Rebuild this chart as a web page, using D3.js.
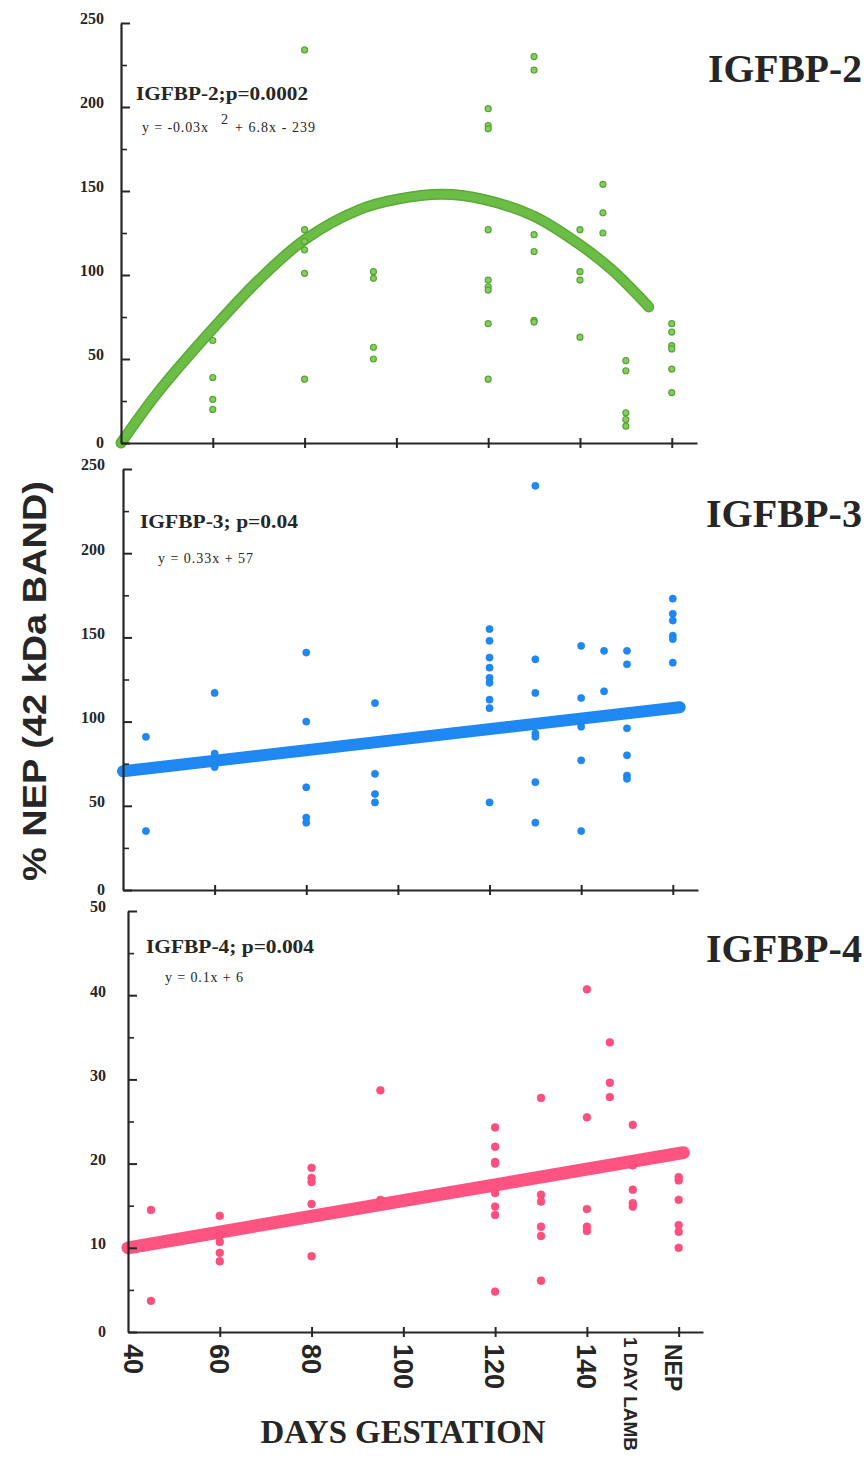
<!DOCTYPE html>
<html>
<head>
<meta charset="utf-8">
<script src="https://cdn.jsdelivr.net/npm/d3@7"></script>
<style>
  body { margin: 0; background: #fff; }
  svg { display: block; }
</style>
</head>
<body>
<svg id="chart" width="865" height="1459"></svg>
<script>
// days: 45, 60, 80, 95, 120, 130, 140, 145, "1 DAY LAMB" = 150, "NEP" = 160
const igfbp2Points = [
    [60, 61], [60, 39], [60, 26], [60, 20],
    [80, 234], [80, 127], [80, 120], [80, 115], [80, 101], [80, 38],
    [95, 102], [95, 98], [95, 57], [95, 50],
    [120, 199], [120, 189], [120, 187], [120, 127], [120, 97], [120, 93], [120, 91], [120, 71], [120, 38],
    [130, 230], [130, 222], [130, 124], [130, 114], [130, 73], [130, 72],
    [140, 127], [140, 102], [140, 97], [140, 63],
    [145, 154], [145, 137], [145, 125],
    [150, 49], [150, 43], [150, 18], [150, 14], [150, 10],
    [160, 71], [160, 66], [160, 58], [160, 56], [160, 44], [160, 30]
];
const igfbp2Curve = [
    [40, 0], [48, 30], [60, 68], [70, 97], [80, 121], [92, 139], [100, 145],
    [110, 148], [119, 145], [130, 135], [140, 118], [147, 103], [155, 81]
];

const igfbp3Points = [
    [45, 91], [45, 35],
    [60, 117], [60, 81], [60, 77], [60, 73],
    [80, 141], [80, 100], [80, 61], [80, 43], [80, 40],
    [95, 111], [95, 69], [95, 57], [95, 52],
    [120, 155], [120, 148], [120, 138], [120, 132], [120, 126], [120, 123], [120, 113], [120, 108], [120, 52],
    [130, 240], [130, 137], [130, 117], [130, 93], [130, 91], [130, 64], [130, 40],
    [140, 145], [140, 114], [140, 97], [140, 77], [140, 35],
    [145, 142], [145, 118],
    [150, 142], [150, 134], [150, 96], [150, 80], [150, 68], [150, 66],
    [160, 173], [160, 164], [160, 160], [160, 151], [160, 149], [160, 135]
];
const igfbp3Trend = [[40, 70.5], [161.5, 108.5]];

const igfbp4Points = [
    [45, 14.5], [45, 3.7],
    [60, 13.8], [60, 11.5], [60, 10.7], [60, 9.4], [60, 8.4],
    [80, 19.5], [80, 18.3], [80, 17.8], [80, 15.2], [80, 9.0],
    [95, 28.7], [95, 15.7],
    [120, 24.3], [120, 22], [120, 20.2], [120, 20], [120, 16.5], [120, 14.9], [120, 13.9], [120, 4.8],
    [130, 27.8], [130, 16.3], [130, 15.5], [130, 12.5], [130, 11.4], [130, 6.1],
    [140, 40.7], [140, 25.5], [140, 14.6], [140, 12.5], [140, 12.0],
    [145, 34.4], [145, 29.6], [145, 27.9],
    [150, 24.6], [150, 19.8], [150, 16.9], [150, 15.3], [150, 14.9],
    [160, 18.4], [160, 18], [160, 15.7], [160, 12.7], [160, 11.9], [160, 10]
];
const igfbp4Trend = [[40, 10], [161, 21.3]];

const xTickDays = [40, 60, 80, 100, 120, 140, 150, 160];
const xTickLabels = ["40", "60", "80", "100", "120", "140", "1 DAY LAMB", "NEP"];
const xAxisTicks = [60, 80, 100, 120, 140, 160];

const panelNames = ["IGFBP-2", "IGFBP-3", "IGFBP-4"];
const statLabels = ["IGFBP-2;p=0.0002", "IGFBP-3; p=0.04", "IGFBP-4; p=0.004"];
const yMaxes = [250, 250, 50];
const yMajorSteps = [50, 50, 10];

const svg = d3.select("#chart");
const ink = "#262626";
const serif = "'Liberation Serif', 'Times New Roman', serif";
const sans = "'Liberation Sans', Arial, sans-serif";

// layout of the three stacked panels
const panels = [
    { left: 121, right: 697, bottom: 443, top: 23, xMax: 165.5, points: igfbp2Points, line: igfbp2Curve,
      fill: "#86cc60", stroke: "#55a535", lineColor: "#6cbd45", lineEdge: "#5aaa38", lineWidth: 11, r: 3,
      labelRight: 104, titleY: 82, titleLen: 154, statX: 136, statY: 100, statLen: 172 },
    { left: 123, right: 698, bottom: 890, top: 469, xMax: 165.5, points: igfbp3Points, line: igfbp3Trend,
      fill: "#1f88f2", stroke: "#1a7fe6", lineColor: "#1f88f2", lineEdge: "#1f88f2", lineWidth: 12, r: 3.6,
      labelRight: 105, titleY: 527, titleLen: 156, statX: 140, statY: 528, statLen: 158 },
    { left: 128, right: 703, bottom: 1332, top: 911, xMax: 165.3, points: igfbp4Points, line: igfbp4Trend,
      fill: "#ff4f7e", stroke: "#f5477a", lineColor: "#ff5482", lineEdge: "#ff5482", lineWidth: 13, r: 3.9,
      labelRight: 106, titleY: 962, titleLen: 156, statX: 146, statY: 953, statLen: 168 }
];

panels.forEach((p, i) => {
    const g = svg.append("g");
    const x = d3.scaleLinear().domain([40, p.xMax]).range([p.left, p.right]);
    const y = d3.scaleLinear().domain([0, yMaxes[i]]).range([p.bottom, p.top]);

    const step = yMajorSteps[i];
    const major = d3.range(0, yMaxes[i] + step / 2, step);
    const minor = d3.range(step / 2, yMaxes[i], step);

    // fitted line / curve
    const line = d3.line().x(d => x(d[0])).y(d => y(d[1])).curve(d3.curveCatmullRom);
    g.append("path")
        .attr("d", line(p.line))
        .attr("fill", "none")
        .attr("stroke", p.lineEdge)
        .attr("stroke-width", p.lineWidth)
        .attr("stroke-linecap", "round");
    g.append("path")
        .attr("d", line(p.line))
        .attr("fill", "none")
        .attr("stroke", p.lineColor)
        .attr("stroke-width", p.lineWidth - 3)
        .attr("stroke-linecap", "round");

    // data points
    g.selectAll(".dot")
        .data(p.points)
        .join("circle")
        .attr("class", "dot")
        .attr("cx", d => x(d[0]))
        .attr("cy", d => y(d[1]))
        .attr("r", p.r)
        .attr("fill", p.fill)
        .attr("stroke", p.stroke)
        .attr("stroke-width", i === 0 ? 1.2 : 0.6);

    // y axis
    const yAxis = g.append("g")
        .attr("transform", `translate(${p.left},0)`)
        .call(d3.axisLeft(y).tickValues(major).tickSizeInner(-9).tickSizeOuter(0)
            .tickPadding(p.left - p.labelRight));
    yAxis.select(".domain").attr("stroke", ink).attr("stroke-width", 2.2);
    yAxis.selectAll(".tick line").attr("stroke", ink).attr("stroke-width", 2);
    yAxis.selectAll(".tick text")
        .attr("fill", ink)
        .attr("font-family", serif)
        .attr("font-weight", "bold")
        .attr("font-size", 16)
        .attr("dy", d => d === 0 ? "0.3em" : "0.05em");

    const yMinor = g.append("g")
        .attr("transform", `translate(${p.left},0)`)
        .call(d3.axisLeft(y).tickValues(minor).tickSizeInner(-6).tickSizeOuter(0).tickFormat(""));
    yMinor.select(".domain").remove();
    yMinor.selectAll(".tick line").attr("stroke", ink).attr("stroke-width", 1.6);

    // x axis
    const xAxis = g.append("g")
        .attr("transform", `translate(0,${p.bottom})`)
        .call(d3.axisBottom(x).tickValues(xAxisTicks).tickSizeInner(5).tickSizeOuter(0).tickFormat(""));
    xAxis.select(".domain").attr("stroke", ink).attr("stroke-width", 2.2);
    xAxis.selectAll(".tick line").attr("y1", -5).attr("stroke", ink).attr("stroke-width", 2);

    // panel name at right
    g.append("text")
        .attr("x", 862)
        .attr("y", p.titleY)
        .attr("text-anchor", "end")
        .attr("font-family", serif)
        .attr("font-weight", "bold")
        .attr("font-size", 40)
        .attr("fill", ink)
        .attr("textLength", p.titleLen)
        .attr("lengthAdjust", "spacingAndGlyphs")
        .text(panelNames[i]);

    // stat label
    g.append("text")
        .attr("x", p.statX)
        .attr("y", p.statY)
        .attr("font-family", serif)
        .attr("font-weight", "bold")
        .attr("font-size", 19)
        .attr("fill", ink)
        .attr("textLength", p.statLen)
        .attr("lengthAdjust", "spacingAndGlyphs")
        .text(statLabels[i]);

    if (i === 2) {
        // day labels under the bottom panel
        const fontFor = j => j === 6 ? 19 : (j === 7 ? 23 : 27);
        svg.selectAll(".xlabel")
            .data(xTickDays)
            .join("text")
            .attr("class", "xlabel")
            .attr("transform", (d, j) => {
                const fs = fontFor(j);
                const off = d === 40 ? 6 : (d === 160 ? -5 : (d === 150 ? -2 : 0));
                return `translate(${x(d) + off},${j === 6 ? 1337 : 1344})rotate(90)translate(0,${0.36 * fs})`;
            })
            .attr("font-family", sans)
            .attr("font-weight", "bold")
            .attr("font-size", (d, j) => fontFor(j))
            .attr("fill", ink)
            .text((d, j) => xTickLabels[j]);
    }
});

// equations
const eq2 = svg.append("text")
    .attr("font-family", serif)
    .attr("font-size", 14)
    .attr("fill", ink);
eq2.append("tspan").attr("x", 142).attr("y", 132).attr("textLength", 66).text("y = -0.03x");
eq2.append("tspan").attr("x", 221).attr("y", 124).text("2");
eq2.append("tspan").attr("x", 235).attr("y", 132).attr("textLength", 80).text("+ 6.8x - 239");

svg.append("text")
    .attr("x", 158).attr("y", 563)
    .attr("font-family", serif).attr("font-size", 14).attr("fill", ink)
    .attr("textLength", 95)
    .text("y = 0.33x + 57");

svg.append("text")
    .attr("x", 165).attr("y", 982)
    .attr("font-family", serif).attr("font-size", 14).attr("fill", ink)
    .attr("textLength", 78)
    .text("y = 0.1x + 6");

// axis titles
svg.append("text")
    .attr("transform", "translate(46,681)rotate(-90)")
    .attr("text-anchor", "middle")
    .attr("font-family", sans)
    .attr("font-weight", "bold")
    .attr("font-size", 33)
    .attr("fill", ink)
    .attr("textLength", 400)
    .attr("lengthAdjust", "spacingAndGlyphs")
    .text("% NEP (42 kDa BAND)");

svg.append("text")
    .attr("x", 403)
    .attr("y", 1443)
    .attr("text-anchor", "middle")
    .attr("font-family", serif)
    .attr("font-weight", "bold")
    .attr("font-size", 33)
    .attr("fill", ink)
    .attr("textLength", 285)
    .attr("lengthAdjust", "spacingAndGlyphs")
    .text("DAYS GESTATION");
</script>
</body>
</html>
